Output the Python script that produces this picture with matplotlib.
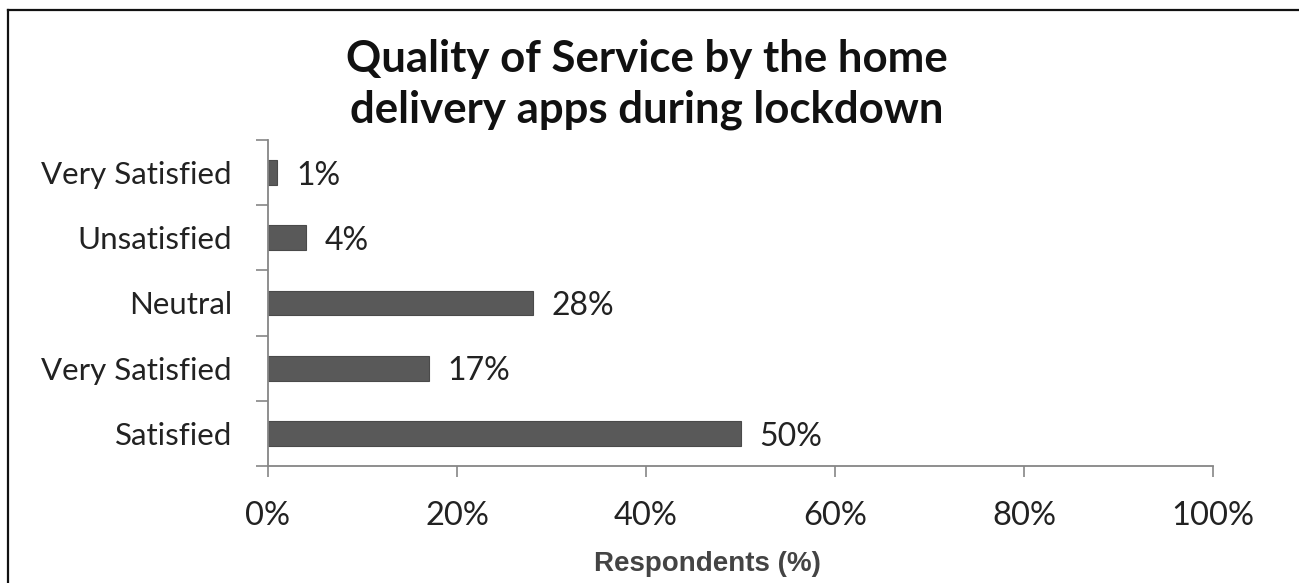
import matplotlib
matplotlib.use("Agg")
import matplotlib.pyplot as plt
from matplotlib.lines import Line2D
from matplotlib.ticker import FixedLocator, PercentFormatter

# survey responses, listed bottom to top as drawn
categories = ["Satisfied", "Very Satisfied", "Neutral", "Unsatisfied", "Very Satisfied"]
shares = [50, 17, 28, 4, 1]
xticks = [0, 20, 40, 60, 80, 100]

BODY_FONT = "Lato"
AXIS_GRAY = "#868686"

fig = plt.figure(figsize=(12.99, 5.83), dpi=100)
ax = fig.add_axes([0.2063, 0.2007, 0.7276, 0.5592])

pos = list(range(len(categories)))
ax.barh(pos, shares, height=0.38, color="#595959", edgecolor="#4a4a4a", linewidth=0.8)

for y, v in zip(pos, shares):
    ax.text(v + 2.0, y - 0.05, f"{v}%", va="center", ha="left",
            fontsize=23, family=BODY_FONT, color="#222222")

ax.set_xlim(0, 100)
ax.set_ylim(-0.5, len(categories) - 0.5)

ax.set_xticks(xticks)
ax.xaxis.set_major_formatter(PercentFormatter(decimals=0))
ax.set_yticks(pos)
ax.set_yticklabels(categories)
ax.yaxis.set_minor_locator(FixedLocator([p - 0.5 for p in range(len(categories) + 1)]))

ax.tick_params(axis="x", direction="out", length=8, width=1.2, color=AXIS_GRAY,
               labelsize=23.5, labelcolor="#222222", pad=17)
ax.tick_params(axis="y", which="major", length=0, labelsize=22.5,
               labelcolor="#222222", pad=26)
ax.tick_params(axis="y", which="minor", direction="out", length=9, width=1.2,
               color=AXIS_GRAY)
for lbl in ax.get_xticklabels() + ax.get_yticklabels():
    lbl.set_family(BODY_FONT)

for side in ("top", "right"):
    ax.spines[side].set_visible(False)
for side in ("left", "bottom"):
    ax.spines[side].set_color(AXIS_GRAY)
    ax.spines[side].set_linewidth(1.3)

ax.set_xlabel("Respondents (%)", fontsize=20, fontweight="bold",
              family="Liberation Sans", color="#444444")
ax.xaxis.set_label_coords(0.4646, -0.262)

fig.text(0.498, 0.855, "Quality of Service by the home\ndelivery apps during lockdown",
         ha="center", va="center", fontsize=31.5, fontweight="bold",
         family=BODY_FONT, color="#111111", linespacing=1.3)

# frame edges along the top and left of the figure
fig.add_artist(Line2D([8 / 1299, 1.0], [1 - 10 / 583, 1 - 10 / 583],
                      transform=fig.transFigure, color="#111111", linewidth=1.6))
fig.add_artist(Line2D([8 / 1299, 8 / 1299], [0.0, 1 - 10 / 583],
                      transform=fig.transFigure, color="#111111", linewidth=1.6))

fig.savefig("out.png", dpi=100)
